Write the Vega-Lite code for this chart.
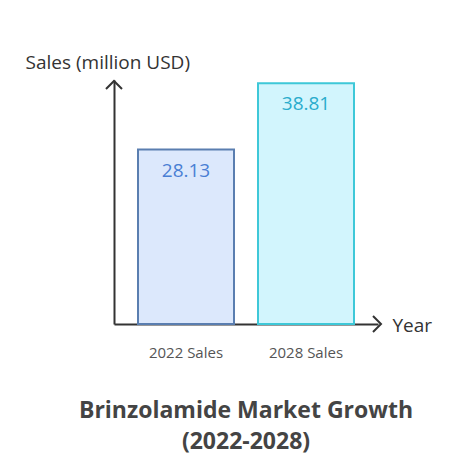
{
  "$schema": "https://vega.github.io/schema/vega-lite/v6.json",
  "width": 264,
  "height": 244,
  "autosize": {"type": "none"},
  "padding": {"left": 114, "top": 80, "right": 84, "bottom": 144},
  "background": "white",
  "config": {
    "view": {"stroke": null},
    "font": "Open Sans"
  },
  "title": {
    "text": ["Brinzolamide Market Growth", "(2022-2028)"],
    "orient": "bottom",
    "anchor": "middle",
    "fontSize": 23,
    "fontWeight": "bold",
    "color": "#444444",
    "offset": 40,
    "lineHeight": 31,
    "font": "Open Sans"
  },
  "data": {
    "values": [
      {"category": "2022 Sales", "sales": 28.13},
      {"category": "2028 Sales", "sales": 38.81}
    ]
  },
  "layer": [
    {
      "mark": {"type": "bar", "strokeWidth": 2},
      "encoding": {
        "x": {
          "field": "category",
          "type": "nominal",
          "sort": null,
          "scale": {"paddingInner": 0.2, "paddingOuter": 0.2},
          "axis": {
            "title": "Year",
            "titleAngle": 0,
            "titleAlign": "left",
            "titleBaseline": "middle",
            "titleX": 278,
            "titleY": 1,
            "titleFontSize": 19,
            "titleFontWeight": "normal",
            "titleColor": "#333333",
            "labelAngle": 0,
            "labelFontSize": 15,
            "labelColor": "#555555",
            "labelPadding": 21,
            "ticks": false,
            "domainColor": "#333333",
            "domainWidth": 2
          }
        },
        "y": {
          "field": "sales",
          "type": "quantitative",
          "scale": {"domain": [0, 39.35], "nice": false},
          "axis": {
            "title": "Sales (million USD)",
            "titleAngle": 0,
            "titleAlign": "left",
            "titleBaseline": "alphabetic",
            "titleX": -89,
            "titleY": -12,
            "titleFontSize": 19,
            "titleFontWeight": "normal",
            "titleColor": "#333333",
            "labels": false,
            "ticks": false,
            "grid": false,
            "domainColor": "#333333",
            "domainWidth": 2
          }
        },
        "fill": {
          "field": "category",
          "type": "nominal",
          "scale": {"range": ["#dce8fc", "#d2f5fd"]},
          "legend": null
        },
        "stroke": {
          "field": "category",
          "type": "nominal",
          "scale": {"range": ["#5a7eb0", "#3ec8d8"]},
          "legend": null
        }
      }
    },
    {
      "mark": {"type": "text", "dy": 21, "baseline": "middle", "fontSize": 19, "font": "Open Sans"},
      "encoding": {
        "x": {"field": "category", "type": "nominal", "sort": null},
        "y": {"field": "sales", "type": "quantitative"},
        "text": {"field": "sales", "type": "quantitative", "format": ".2f"},
        "color": {
          "field": "category",
          "type": "nominal",
          "scale": {"range": ["#4a7fd4", "#2aaccc"]},
          "legend": null
        }
      }
    },
    {
      "data": {"values": [{"arrow": "y"}]},
      "mark": {"type": "point", "shape": "M-1,1L0,0L1,1", "filled": false, "size": 256, "stroke": "#333333", "strokeWidth": 2, "opacity": 1},
      "encoding": {
        "x": {"value": 0},
        "y": {"value": 1}
      }
    },
    {
      "data": {"values": [{"arrow": "x"}]},
      "mark": {"type": "point", "shape": "M-1,-1L0,0L-1,1", "filled": false, "size": 256, "stroke": "#333333", "strokeWidth": 2, "opacity": 1},
      "encoding": {
        "x": {"value": 267},
        "y": {"value": 244}
      }
    }
  ],
  "resolve": {"scale": {"color": "independent", "fill": "independent", "stroke": "independent"}}
}
